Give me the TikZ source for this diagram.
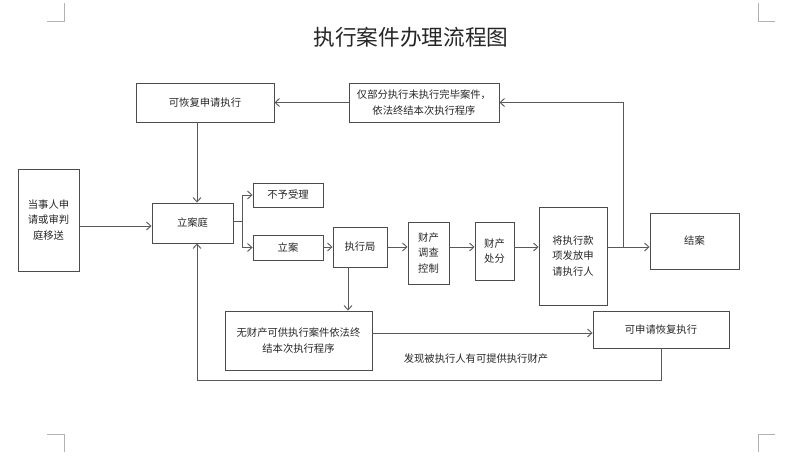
\documentclass[tikz,border=0pt]{standalone}
\usepackage{fontspec}
\setmainfont{Noto Sans CJK SC}
\usetikzlibrary{arrows.meta}

\begin{document}
\begin{tikzpicture}[x=0.3mm,y=-0.3mm,
  every node/.style={font=\fontsize{8.8}{13.4}\selectfont,text=black!85},
  box/.style={draw=black!70,line width=0.8pt,align=center,inner sep=0pt},
  arr/.style={draw=black!65,line width=0.8pt,-{Straight Barb[length=1.3mm,width=2.4mm]}},
  crop/.style={draw=black!30,line width=0.6pt}]
\useasboundingbox (0,0) rectangle (800,464);

\draw[crop] (64,3) -- (64,21) -- (47,21);
\draw[crop] (758,3) -- (758,21) -- (775,21);
\draw[crop] (47,434) -- (64,434) -- (64,452);
\draw[crop] (775,434) -- (758,434) -- (758,452);

\node (title) at (411,37) {\fontsize{18.5}{22}\selectfont 执行案件办理流程图};

\node[box,minimum width=4.14cm,minimum height=1.17cm] (huifu) at (205,102.5) {可恢复申请执行};
\node[box,minimum width=4.5cm,minimum height=1.17cm] (bufen) at (424,102.5) {仅部分执行未执行完毕案件，\\依法终结本次执行程序};
\node[box,minimum width=1.83cm,minimum height=3.06cm] (dangshi) at (48.5,220) {当事人申\\请或审判\\庭移送};
\node[box,minimum width=2.43cm,minimum height=1.2cm] (lianting) at (192.5,223) {立案庭};
\node[box,minimum width=2.1cm,minimum height=0.72cm] (buyu) at (288,195) {不予受理};
\node[box,minimum width=2.1cm,minimum height=0.75cm] (lian) at (288,247.5) {立案};
\node[box,minimum width=1.62cm,minimum height=1.2cm] (zxj) at (360,247) {执行局};
\node[box,minimum width=1.23cm,minimum height=1.86cm] (dcha) at (428.5,253) {财产\\调查\\控制};
\node[box,minimum width=1.17cm,minimum height=1.74cm] (chuzhi) at (494.5,251) {财产\\处分};
\node[box,minimum width=2.04cm,minimum height=2.94cm] (fafang) at (573,256) {将执行款\\项发放申\\请执行人};
\node[box,minimum width=2.67cm,minimum height=1.68cm] (jiean) at (694.5,241) {结案};
\node[box,minimum width=4.41cm,minimum height=1.77cm] (wucc) at (298.5,340.5) {无财产可供执行案件依法终\\结本次执行程序};
\node[box,minimum width=4.08cm,minimum height=1.11cm] (shenqing) at (661,329.5) {可申请恢复执行};
\node (faxian) at (476,359) {发现被执行人有可提供执行财产};

\coordinate (jc) at (623,247);
\coordinate (fork) at (242,221);
\coordinate (col) at (197,380);

\draw[arr] (bufen.west) -- (huifu.east);
\draw[arr] (jc) |- (bufen.east);
\draw[arr] (col |- huifu.south) -- (col |- lianting.north);
\draw[arr] (dangshi.east |- 0,226) -- (lianting.west |- 0,226);

\draw[arr] (lianting.east |- fork) -- (fork) |- (buyu.west);
\draw[arr] (fork) |- (lian.west);

\draw[arr] (lian.east |- zxj) -- (zxj.west);
\draw[arr] (zxj.east) -- (dcha.west |- zxj);
\draw[arr] (dcha.east |- zxj) -- (chuzhi.west |- zxj);
\draw[arr] (chuzhi.east |- zxj) -- (fafang.west |- zxj);
\draw[arr] (fafang.east |- zxj) -- (jiean.west |- zxj);

\draw[arr] ([xshift=-3.6mm]zxj.south) -- ([xshift=-3.6mm]zxj.south |- wucc.north);
\draw[arr] (wucc.east |- 0,333) -- (shenqing.west |- 0,333);
\draw[arr] (shenqing.south) |- (col) -- (col |- lianting.south);
\end{tikzpicture}
\end{document}
